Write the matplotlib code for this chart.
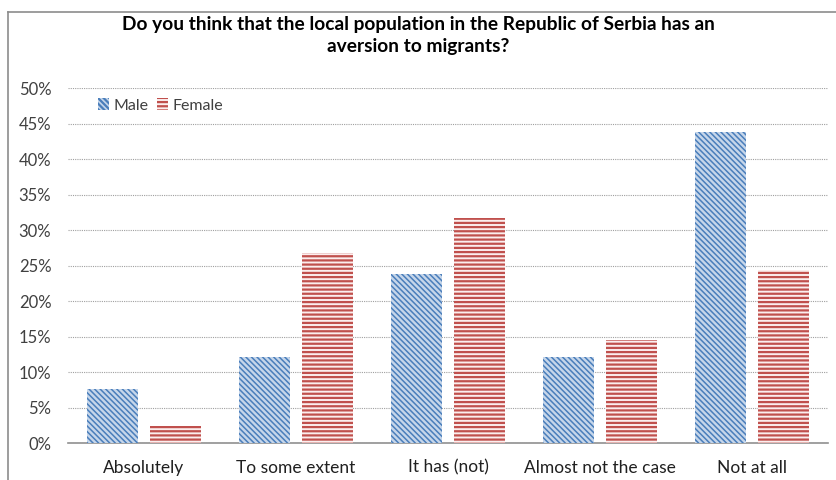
import numpy as np
import matplotlib.pyplot as plt
from matplotlib.lines import Line2D

plt.rcParams['font.family'] = ['Lato', 'DejaVu Sans']
plt.rcParams['hatch.linewidth'] = 1.6

categories = ['Absolutely', 'To some extent', 'It has (not)', 'Almost not the case', 'Not at all']
male = [7.6, 12.1, 23.8, 12.1, 43.9]
female = [2.4, 26.8, 31.7, 14.5, 24.4]
y_ticks = [0, 5, 10, 15, 20, 25, 30, 35, 40, 45, 50]

fig = plt.figure(figsize=(8.36, 4.8), dpi=100)
ax = fig.add_axes([68 / 836, 37 / 480, 760 / 836, 354.7 / 480])

x = np.arange(len(categories))
w = 0.336
off = 0.209
mbars = ax.bar(x - off, male, w, facecolor='#c6d6ea', edgecolor='#4a7ebb',
               hatch='\\\\\\\\\\\\', linewidth=0, label='Male', zorder=3)
fbars = ax.bar(x + off, female, w, facecolor='#fbeeee', edgecolor='#c0504d',
               hatch='----', linewidth=0, label='Female', zorder=3)
for b in mbars:
    try:
        b.set_hatch_linewidth(1.1)
    except AttributeError:
        pass

ax.set_xlim(-0.5, len(categories) - 0.5)
ax.set_ylim(0, 50)
ax.set_yticks(y_ticks)
ax.set_yticklabels([f'{t}%' for t in y_ticks], fontsize=12, color='#404040')
ax.set_xticks(x)
ax.set_xticklabels(categories, fontsize=12.5, color='#202020')
ax.tick_params(length=0, pad=12)
ax.tick_params(axis='x', pad=12)
ax.grid(axis='y', color='#a0a0a0', linestyle=(0, (1, 1)), linewidth=0.8, zorder=0)
for s in ['top', 'right', 'left']:
    ax.spines[s].set_visible(False)
ax.spines['bottom'].set_color('#909090')
ax.spines['bottom'].set_linewidth(1.2)

leg = ax.legend(loc='upper left', bbox_to_anchor=(0.02, 1.012), ncol=2, frameon=False,
                fontsize=11.5, handlelength=0.7, handleheight=0.7, handletextpad=0.3,
                columnspacing=0.5)
for t in leg.get_texts():
    t.set_color('#404040')

fig.text(0.5, 0.966, 'Do you think that the local population in the Republic of Serbia has an\naversion to migrants?',
         ha='center', va='top', fontsize=13.8, fontweight='bold', linespacing=1.35)

# outer chart border
fig.add_artist(Line2D([8 / 836, 1], [1 - 12 / 480, 1 - 12 / 480], color='#8c8c8c', lw=1.2))
fig.add_artist(Line2D([8 / 836, 8 / 836], [0, 1 - 12 / 480], color='#8c8c8c', lw=1.2))

fig.savefig('out.png', dpi=100)
